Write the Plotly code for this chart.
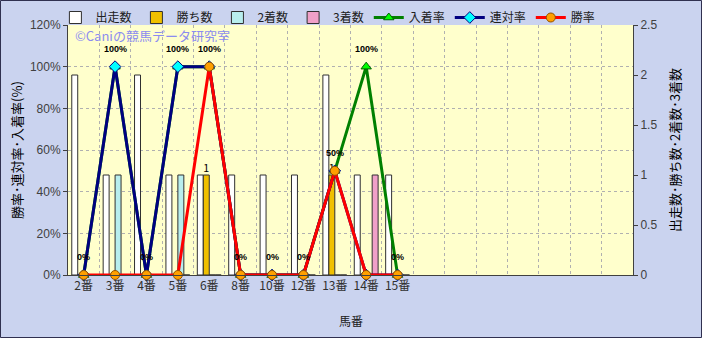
import plotly.graph_objects as go

# ---- data ----
categories = ["2番", "3番", "4番", "5番", "6番", "8番", "10番", "12番", "13番", "14番", "15番"]
starts = [2, 1, 2, 1, 1, 1, 1, 1, 2, 1, 1]          # 出走数
wins = [0, 0, 0, 0, 1, 0, 0, 0, 1, 0, 0]            # 勝ち数
seconds = [0, 1, 0, 1, 0, 0, 0, 0, 0, 0, 0]         # 2着数
thirds = [0, 0, 0, 0, 0, 0, 0, 0, 0, 1, 0]          # 3着数
place_rate = [0, 100, 0, 100, 100, 0, 0, 0, 50, 100, 0]    # 入着率
quinella_rate = [0, 100, 0, 100, 100, 0, 0, 0, 50, 0, 0]   # 連対率
win_rate = [0, 0, 0, 0, 100, 0, 0, 0, 50, 0, 0]            # 勝率
pct_ticks = [0, 20, 40, 60, 80, 100, 120]
cnt_ticks = [0, 0.5, 1, 1.5, 2, 2.5]

N_SLOTS = 18
xs = list(range(len(categories)))

JP = "Noto Sans CJK JP, Noto Sans, sans-serif"
fig = go.Figure()

bar_line = dict(color="#303030", width=1)
fig.add_trace(go.Bar(name="出走数", x=xs, y=starts, marker=dict(color="#FFFFFF", line=bar_line), yaxis="y"))
fig.add_trace(go.Bar(name="勝ち数", x=xs, y=wins, marker=dict(color="#F0C000", line=bar_line), yaxis="y",
                     text=[str(v) if v else "" for v in wins], textposition="outside",
                     textfont=dict(family=JP, size=11, color="#000000"), cliponaxis=False))
fig.add_trace(go.Bar(name="2着数", x=xs, y=seconds, marker=dict(color="#B8EEEE", line=bar_line), yaxis="y"))
fig.add_trace(go.Bar(name="3着数", x=xs, y=thirds, marker=dict(color="#F0A0C8", line=bar_line), yaxis="y"))

fig.add_trace(go.Scatter(name="入着率", x=xs, y=place_rate, yaxis="y2", mode="lines+markers",
                         line=dict(color="#008000", width=3),
                         marker=dict(symbol="triangle-up", size=9, color="#00FF00", line=dict(color="#006000", width=1)),
                         cliponaxis=False))
fig.add_trace(go.Scatter(name="連対率", x=xs, y=quinella_rate, yaxis="y2", mode="lines+markers",
                         line=dict(color="#000080", width=3),
                         marker=dict(symbol="diamond", size=9, color="#00FFFF", line=dict(color="#000080", width=1)),
                         cliponaxis=False))
fig.add_trace(go.Scatter(name="勝率", x=xs, y=win_rate, yaxis="y2", mode="lines+markers",
                         line=dict(color="#FF0000", width=3),
                         marker=dict(symbol="circle", size=9, color="#FFA000", line=dict(color="#905000", width=1)),
                         cliponaxis=False))

annotations = []
for x, v in zip(xs, place_rate):
    annotations.append(dict(x=x, y=v, xref="x", yref="y2", text=f"<b>{v}%</b>", showarrow=False,
                            yshift=18, font=dict(family="Liberation Sans, Arial", size=9, color="#000000")))
annotations.append(dict(x=0.009, y=0.962, xref="paper", yref="paper", xanchor="left", yanchor="middle",
                        text="©Caniの競馬データ研究室", showarrow=False, height=14, valign="middle",
                        font=dict(family=JP, size=13, color="#8C8CF0")))
annotations.append(dict(x=0.5, y=-0.18, xref="paper", yref="paper", text="馬番", showarrow=False,
                        yanchor="middle", font=dict(family=JP, size=12, color="#202020")))

W, H = 702, 338
L, R, T, B = 68, 69, 25, 63
pw, ph = W - L - R, H - T - B

fig.update_layout(
    width=W, height=H,
    margin=dict(l=L, r=R, t=T, b=B, autoexpand=False),
    paper_bgcolor="#CAD3EF",
    plot_bgcolor="#FFFFCC",
    barmode="group", bargap=0.24, bargroupgap=0,
    showlegend=True,
    legend=dict(orientation="h", x=0.46, xanchor="center", y=1.03, yanchor="middle",
                font=dict(family=JP, size=12, color="#202020"), bgcolor="rgba(0,0,0,0)",
                itemwidth=30, tracegroupgap=0),
    font=dict(family=JP, size=12, color="#404040"),
    xaxis=dict(range=[-0.5, N_SLOTS - 0.5], tickmode="array", tickvals=xs, ticktext=categories,
               showgrid=False, zeroline=False, showline=True, linecolor="#404040", linewidth=1,
               ticks="", tickfont=dict(family=JP, size=12, color="#303030"),
               minor=dict(tickmode="array", tickvals=[i + 0.5 for i in range(N_SLOTS - 1)],
                          showgrid=True, gridcolor="#B0B0B0", griddash="dot", gridwidth=1, ticks="")),
    yaxis=dict(side="right", range=[0, 2.5], tickmode="array", tickvals=cnt_ticks,
               ticktext=[f"{v:g}" for v in cnt_ticks],
               showgrid=False, zeroline=False, showline=True, linecolor="#404040", linewidth=1,
               ticks="outside", ticklen=4, tickcolor="#404040",
               tickfont=dict(family="Liberation Sans, Arial", size=12, color="#404040"),
               title=dict(text="出走数･勝ち数･2着数･3着数", font=dict(family=JP, size=13, color="#000000"),
                          standoff=14)),
    yaxis2=dict(overlaying="y", side="left", range=[0, 120], tickmode="array", tickvals=pct_ticks,
                ticktext=[f"{v}%" for v in pct_ticks],
                showgrid=True, gridcolor="#B0B0B0", griddash="dot", gridwidth=1,
                zeroline=False, showline=True, linecolor="#404040", linewidth=1,
                ticks="outside", ticklen=4, tickcolor="#404040",
                tickfont=dict(family="Liberation Sans, Arial", size=12, color="#404040"),
                title=dict(text="勝率･連対率･入着率(%)", font=dict(family=JP, size=13, color="#000000"),
                           standoff=4)),
    annotations=annotations,
    shapes=[dict(type="rect", xref="paper", yref="paper",
                 x0=-L / pw + 0.5 / pw, x1=1 + (R - 0.5) / pw,
                 y0=-(B - 0.5) / ph, y1=1 + (T - 0.5) / ph,
                 line=dict(color="#303050", width=1), fillcolor="rgba(0,0,0,0)", layer="above")],
)

fig.write_html("out.html")
